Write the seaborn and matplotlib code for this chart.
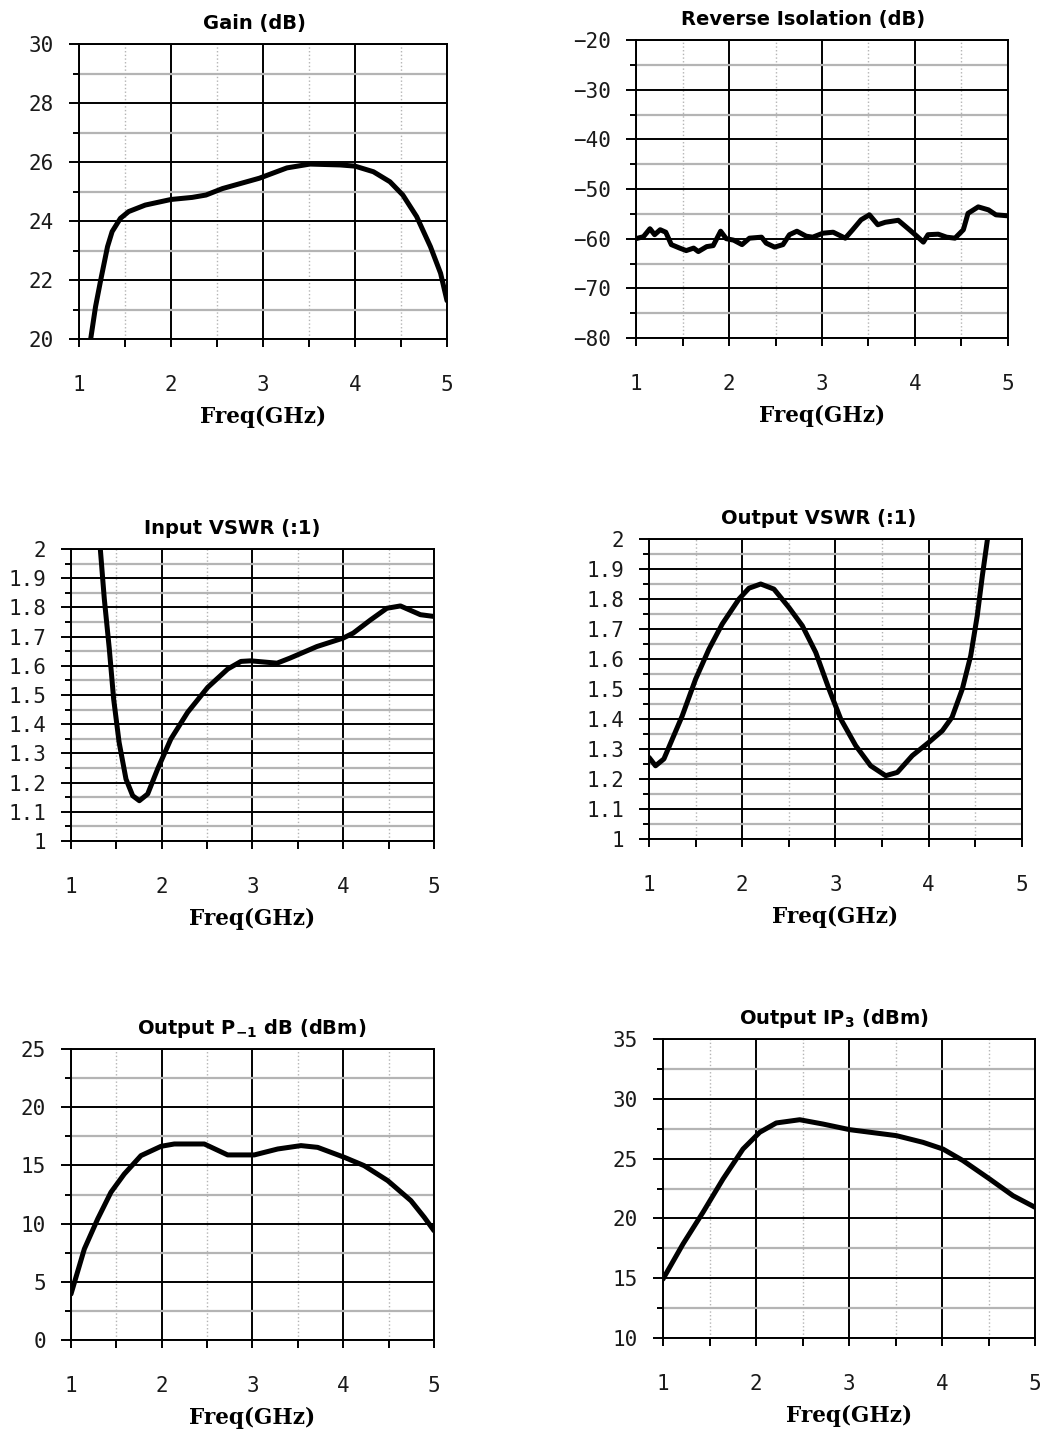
import numpy as np
import pandas as pd
import matplotlib
matplotlib.use("Agg")
import matplotlib.pyplot as plt
import seaborn as sns

# ==========================================
# DATA
# ==========================================
gain_freq = [1.127, 1.18, 1.236, 1.31, 1.36, 1.45, 1.54, 1.72, 2.00, 2.23, 2.38, 2.56, 2.96,
             3.26, 3.51, 3.84, 4.00, 4.20, 4.38, 4.52, 4.67, 4.82, 4.93, 5.00]
gain_db = [20.0, 21.1, 22.0, 23.13, 23.64, 24.09, 24.32, 24.54, 24.73, 24.8, 24.88, 25.1,
           25.45, 25.8, 25.93, 25.9, 25.86, 25.67, 25.33, 24.88, 24.15, 23.13, 22.23, 21.3]

iso_freq = [1.00, 1.08, 1.15, 1.20, 1.26, 1.32, 1.38, 1.47, 1.54, 1.62, 1.67, 1.76, 1.83,
            1.91, 1.97, 2.05, 2.14, 2.22, 2.35, 2.40, 2.49, 2.58, 2.65, 2.73, 2.83, 2.90,
            3.01, 3.12, 3.25, 3.33, 3.42, 3.51, 3.60, 3.68, 3.82, 3.94, 4.02, 4.09, 4.14,
            4.25, 4.34, 4.43, 4.52, 4.57, 4.68, 4.79, 4.87, 5.00]
iso_db = [-60.0, -59.6, -58.0, -59.2, -58.2, -58.7, -61.2, -61.9, -62.4, -61.9, -62.6, -61.6,
          -61.4, -58.5, -60.0, -60.3, -61.2, -59.9, -59.7, -60.9, -61.7, -61.2, -59.2, -58.5,
          -59.5, -59.7, -58.9, -58.7, -59.9, -58.2, -56.2, -55.2, -57.2, -56.7, -56.3, -58.2,
          -59.5, -60.7, -59.2, -59.1, -59.7, -59.9, -58.2, -54.9, -53.6, -54.2, -55.2, -55.4]

in_vswr_freq = [1.323, 1.367, 1.422, 1.47, 1.53, 1.606, 1.68, 1.753, 1.845, 1.955, 2.10,
                2.286, 2.506, 2.727, 2.873, 2.98, 3.27, 3.41, 3.71, 4.00, 4.11, 4.30, 4.48,
                4.63, 4.74, 4.85, 5.00]
in_vswr = [2.00, 1.829, 1.658, 1.486, 1.338, 1.212, 1.155, 1.138, 1.161, 1.247, 1.349, 1.441,
           1.526, 1.589, 1.615, 1.617, 1.609, 1.626, 1.666, 1.695, 1.712, 1.757, 1.797, 1.805,
           1.79, 1.775, 1.769]

out_vswr_freq = [1.00, 1.07, 1.16, 1.25, 1.357, 1.50, 1.643, 1.786, 1.965, 2.072, 2.198,
                 2.34, 2.50, 2.644, 2.788, 2.93, 3.056, 3.217, 3.377, 3.538, 3.663, 3.824,
                 4.00, 4.146, 4.25, 4.36, 4.45, 4.52, 4.575, 4.63]
out_vswr = [1.272, 1.244, 1.267, 1.333, 1.411, 1.533, 1.633, 1.717, 1.80, 1.836, 1.85, 1.833,
            1.772, 1.711, 1.622, 1.50, 1.40, 1.311, 1.244, 1.211, 1.222, 1.278, 1.322, 1.361,
            1.406, 1.50, 1.611, 1.744, 1.878, 2.00]

p1db_freq = [1.00, 1.147, 1.294, 1.44, 1.587, 1.771, 1.992, 2.138, 2.469, 2.726, 3.02,
             3.278, 3.534, 3.718, 4.01, 4.23, 4.49, 4.746, 4.893, 5.00]
p1db_dbm = [3.95, 7.82, 10.4, 12.69, 14.26, 15.84, 16.64, 16.84, 16.84, 15.9, 15.9, 16.41,
            16.7, 16.55, 15.7, 14.98, 13.69, 11.97, 10.54, 9.39]

ip3_freq = [1.00, 1.215, 1.43, 1.645, 1.86, 2.04, 2.218, 2.47, 2.72, 3.007, 3.509, 3.796,
            4.01, 4.226, 4.513, 4.763, 5.00]
ip3_dbm = [14.93, 17.86, 20.51, 23.29, 25.8, 27.2, 27.98, 28.25, 27.89, 27.42, 26.92, 26.36,
           25.8, 24.83, 23.29, 21.9, 20.93]

# tick values / labels
freq_ticks = [1, 2, 3, 4, 5]
freq_minor = [1.5, 2.5, 3.5, 4.5]
gain_ticks = [20, 22, 24, 26, 28, 30]
gain_minor = [21, 23, 25, 27, 29]
iso_ticks = [-80, -70, -60, -50, -40, -30, -20]
iso_minor = [-75, -65, -55, -45, -35, -25]
vswr_ticks = [1.0, 1.1, 1.2, 1.3, 1.4, 1.5, 1.6, 1.7, 1.8, 1.9, 2.0]
vswr_labels = ["1", "1.1", "1.2", "1.3", "1.4", "1.5", "1.6", "1.7", "1.8", "1.9", "2"]
vswr_minor = [1.05, 1.15, 1.25, 1.35, 1.45, 1.55, 1.65, 1.75, 1.85, 1.95]
p1db_ticks = [0, 5, 10, 15, 20, 25]
p1db_minor = [2.5, 7.5, 12.5, 17.5, 22.5]
ip3_ticks = [10, 15, 20, 25, 30, 35]
ip3_minor = [12.5, 17.5, 22.5, 27.5, 32.5]

# ==========================================
# PLOTTING
# ==========================================
sns.set_style("white")
plt.rcParams['font.family'] = ['DejaVu Sans']
plt.rcParams['mathtext.fontset'] = 'dejavusans'
plt.rcParams['text.color'] = 'black'

W, H = 1043, 1429
fig = plt.figure(figsize=(W / 100, H / 100), dpi=100)
fig.patch.set_facecolor('white')


def axes_px(x0, x1, y0, y1):
    # pixel box (top-left origin) -> figure fraction
    return fig.add_axes([x0 / W, 1 - y1 / H, (x1 - x0) / W, (y1 - y0) / H])


def draw_panel(ax, x, y, title, title_x, yticks, ylabels, yminor):
    df = pd.DataFrame({'freq': x, 'val': y})
    sns.lineplot(data=df, x='freq', y='val', ax=ax, color='black', linewidth=3.6,
                 sort=False, estimator=None, zorder=5)
    ax.set_xlim(1, 5)
    ax.set_ylim(yticks[0], yticks[-1])
    ax.set_xticks(freq_ticks, [str(t) for t in freq_ticks])
    ax.set_xticks(freq_minor, minor=True)
    ax.set_yticks(yticks, ylabels)
    ax.set_yticks(yminor, minor=True)

    ax.set_axisbelow(True)
    ax.grid(which='major', color='black', linewidth=1.4, linestyle='-')
    ax.grid(which='minor', axis='y', color='#b4b4b4', linewidth=1.6, linestyle='-')
    ax.grid(which='minor', axis='x', color='#b4b4b4', linewidth=1.0, linestyle=':')
    for s in ax.spines.values():
        s.set_visible(True)
        s.set_color('black')
        s.set_linewidth(1.4)

    ax.tick_params(axis='x', which='both', direction='out', length=6, width=1.4,
                   color='black', pad=20, bottom=True)
    ax.tick_params(axis='y', which='major', direction='out', length=7, width=1.4,
                   color='black', pad=11, left=True)
    ax.tick_params(axis='y', which='minor', direction='out', length=4.5, width=1.4,
                   color='black', left=True)
    for lab in ax.get_xticklabels() + ax.get_yticklabels():
        lab.set_fontfamily('DejaVu Sans Mono')
        lab.set_fontsize(15)
        lab.set_color('#1a1a1a')

    ax.set_xlabel('Freq(GHz)', fontfamily='DejaVu Serif', fontweight='bold',
                  fontsize=15.5, labelpad=8, color='black')
    ax.set_ylabel('')
    ax.set_title(title, fontweight='bold', fontsize=14, x=title_x, pad=11, color='black')


ax1 = axes_px(79, 447, 44, 339)
draw_panel(ax1, gain_freq, gain_db, 'Gain (dB)', 0.476,
           gain_ticks, [str(t) for t in gain_ticks], gain_minor)

ax2 = axes_px(636, 1008, 40, 338)
draw_panel(ax2, iso_freq, iso_db, 'Reverse Isolation (dB)', 0.449,
           iso_ticks, [str(t).replace('-', '\u2212') for t in iso_ticks], iso_minor)

ax3 = axes_px(71, 434, 549, 841)
draw_panel(ax3, in_vswr_freq, in_vswr, 'Input VSWR (:1)', 0.444,
           vswr_ticks, vswr_labels, vswr_minor)

ax4 = axes_px(649, 1022, 539, 839)
draw_panel(ax4, out_vswr_freq, out_vswr, 'Output VSWR (:1)', 0.456,
           vswr_ticks, vswr_labels, vswr_minor)

ax5 = axes_px(71, 434, 1049, 1340)
draw_panel(ax5, p1db_freq, p1db_dbm, r'Output P$_{\mathbf{-1}}$ dB (dBm)', 0.499,
           p1db_ticks, [str(t) for t in p1db_ticks], p1db_minor)

ax6 = axes_px(663, 1035, 1039, 1338)
draw_panel(ax6, ip3_freq, ip3_dbm, r'Output IP$_{\mathbf{3}}$ (dBm)', 0.46,
           ip3_ticks, [str(t) for t in ip3_ticks], ip3_minor)

fig.savefig('out.png', dpi=100, facecolor='white')
